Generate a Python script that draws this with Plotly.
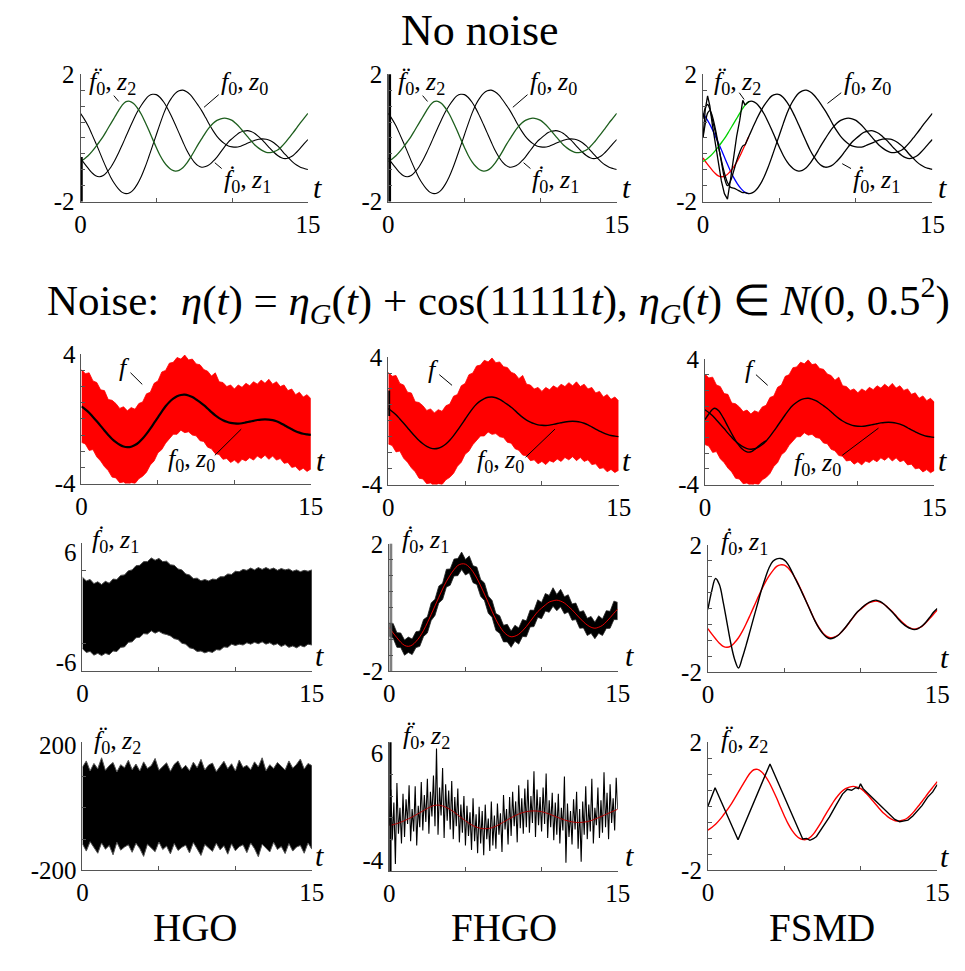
import plotly.graph_objects as go

W, H = 965, 971
SERIF = "Liberation Serif"

# ---------------- data -----------------
# reference signal f0 and its derivatives, sampled every 0.25 s on [0, 15]
DT = 0.25
f0 = [0.77, 0.59, 0.38, 0.12, -0.15, -0.43, -0.72, -0.99, -1.24, -1.44, -1.60, -1.71, -1.75,
      -1.72, -1.62, -1.45, -1.22, -0.93, -0.60, -0.25, 0.10, 0.45, 0.78, 1.05, 1.25, 1.40,
      1.48, 1.50, 1.45, 1.35, 1.20, 1.03, 0.85, 0.64, 0.42, 0.22, 0.05, -0.08, -0.18, -0.25,
      -0.28, -0.29, -0.27, -0.22, -0.17, -0.12, -0.07, -0.04, -0.03, -0.04, -0.08, -0.15,
      -0.25, -0.38, -0.52, -0.64, -0.76, -0.85, -0.92, -0.96, -0.99]
f0_d = [-0.63, -0.80, -0.95, -1.09, -1.19, -1.22, -1.18, -1.07, -0.92, -0.72, -0.48, -0.22,
        0.05, 0.32, 0.58, 0.82, 1.02, 1.19, 1.32, 1.37, 1.36, 1.27, 1.12, 0.92, 0.68, 0.42,
        0.15, -0.12, -0.38, -0.59, -0.76, -0.87, -0.92, -0.90, -0.84, -0.73, -0.60, -0.44,
        -0.28, -0.13, -0.02, 0.08, 0.17, 0.21, 0.23, 0.20, 0.14, 0.04, -0.07, -0.20, -0.33,
        -0.45, -0.55, -0.62, -0.65, -0.62, -0.56, -0.45, -0.32, -0.18, -0.05]
f0_dd = [-0.74, -0.66, -0.56, -0.43, -0.28, -0.12, 0.05, 0.25, 0.45, 0.65, 0.85, 1.03, 1.14,
         1.15, 1.08, 0.94, 0.75, 0.51, 0.25, -0.03, -0.30, -0.55, -0.75, -0.90, -1.00, -1.04,
         -1.02, -0.94, -0.80, -0.62, -0.42, -0.21, -0.02, 0.17, 0.33, 0.46, 0.55, 0.60, 0.62,
         0.60, 0.55, 0.45, 0.33, 0.19, 0.05, -0.09, -0.22, -0.32, -0.40, -0.45, -0.46, -0.43,
         -0.38, -0.28, -0.15, 0.00, 0.15, 0.31, 0.47, 0.62, 0.77]

# envelope of the noisy measurement f (every 0.25 s)
f_upper = [3.05, 2.80, 2.85, 2.35, 2.25, 1.80, 1.75, 1.20, 1.15, 0.95, 0.65, 0.75, 0.50, 0.70,
           0.60, 0.95, 1.05, 1.55, 1.65, 2.20, 2.35, 2.90, 3.00, 3.45, 3.50, 3.80, 3.70, 3.95,
           3.65, 3.70, 3.40, 3.35, 3.05, 2.95, 2.65, 2.85, 2.30, 2.25, 2.00, 2.10, 1.85, 2.10,
           1.95, 2.20, 2.05, 2.30, 2.15, 2.40, 2.20, 2.45, 2.15, 2.30, 2.00, 2.10, 1.75, 1.85,
           1.50, 1.65, 1.35, 1.50, 1.25]
f_lower = [-1.45, -1.55, -1.95, -1.90, -2.35, -2.60, -2.95, -3.20, -3.60, -3.65, -3.95, -3.90,
           -4.10, -3.95, -4.00, -3.70, -3.55, -3.30, -2.85, -2.60, -2.10, -1.90, -1.50, -1.25,
           -0.95, -0.95, -0.70, -0.85, -0.80, -1.00, -1.05, -1.35, -1.40, -1.75, -1.85, -2.15,
           -2.20, -2.50, -2.45, -2.70, -2.55, -2.75, -2.50, -2.60, -2.40, -2.55, -2.30, -2.45,
           -2.25, -2.50, -2.30, -2.55, -2.45, -2.75, -2.70, -3.00, -2.95, -3.20, -3.05, -3.25,
           -3.10]

# HGO estimate z1 under noise (envelope, every 0.25 s)
hgo_z1_upper = [3.25, 2.85, 3.00, 2.55, 2.75, 2.45, 2.80, 2.60, 3.05, 3.00, 3.45, 3.50, 3.95,
                4.05, 4.50, 4.55, 4.95, 4.95, 5.35, 5.10, 5.30, 4.95, 5.00, 4.60, 4.55, 4.15,
                4.05, 3.60, 3.50, 3.10, 3.15, 2.85, 3.00, 2.85, 3.05, 3.00, 3.30, 3.30, 3.60,
                3.55, 3.90, 3.85, 4.10, 4.00, 4.25, 4.05, 4.30, 4.10, 4.30, 4.10, 4.25, 4.00,
                4.20, 4.05, 4.15, 3.90, 4.05, 3.85, 4.00, 3.90, 4.05]
hgo_z1_lower = [-4.55, -4.95, -4.85, -5.25, -5.05, -5.30, -5.05, -5.20, -4.80, -4.85, -4.40,
                -4.35, -3.85, -3.80, -3.35, -3.30, -2.90, -2.95, -2.60, -2.85, -2.65, -2.90,
                -3.00, -3.15, -3.45, -3.55, -3.95, -4.05, -4.45, -4.55, -4.85, -4.80, -5.00,
                -4.85, -4.95, -4.65, -4.70, -4.35, -4.40, -4.05, -4.20, -4.05, -4.15, -3.90,
                -4.05, -3.85, -4.00, -3.80, -4.05, -3.90, -4.15, -4.00, -4.30, -4.10, -4.40,
                -4.25, -4.45, -4.20, -4.35, -4.05, -4.15]

# HGO estimate z2 under noise (envelope, every 0.25 s)
hgo_z2_upper = [130, 150, 118, 142, 125, 160, 120, 135, 145, 115, 138, 128, 152, 122, 140, 118,
                147, 126, 135, 158, 120, 132, 144, 117, 139, 150, 124, 136, 119, 146, 128, 155,
                121, 137, 143, 116, 132, 149, 125, 141, 118, 153, 129, 136, 122, 147, 131, 160,
                119, 138, 126, 145, 133, 121, 150, 127, 139, 156, 124, 142, 135]
hgo_z2_lower = [-115, -138, -108, -128, -145, -112, -132, -120, -150, -110, -135, -125, -118,
                -142, -113, -130, -155, -116, -127, -140, -109, -133, -122, -147, -114, -136,
                -126, -119, -144, -111, -131, -152, -117, -129, -139, -113, -134, -121, -148,
                -115, -137, -124, -118, -143, -112, -130, -156, -116, -128, -141, -110, -133,
                -123, -146, -114, -138, -125, -120, -145, -112, -132]

# FHGO estimate z1 under noise (envelope, every 0.25 s)
fhgo_z1_upper = [-0.49, -0.50, -0.79, -0.80, -1.02, -0.93, -0.99, -0.76, -0.74, -0.38, -0.29,
                 0.14, 0.26, 0.67, 0.76, 1.20, 1.21, 1.52, 1.54, 1.74, 1.51, 1.62, 1.31, 1.27,
                 0.88, 0.77, 0.36, 0.22, -0.19, -0.26, -0.56, -0.53, -0.74, -0.56, -0.64, -0.38,
                 -0.42, -0.08, -0.09, 0.24, 0.16, 0.44, 0.38, 0.62, 0.41, 0.57, 0.34, 0.40, 0.11,
                 0.14, -0.14, -0.10, -0.34, -0.28, -0.46, -0.26, -0.36, -0.10, -0.12, 0.20, 0.16]
fhgo_z1_lower = [-0.90, -0.96, -1.25, -1.26, -1.50, -1.41, -1.48, -1.26, -1.22, -0.91, -0.80,
                 -0.41, -0.25, 0.14, 0.25, 0.64, 0.70, 0.99, 1.00, 1.19, 1.02, 1.09, 0.78, 0.72,
                 0.35, 0.22, -0.18, -0.31, -0.72, -0.81, -1.08, -1.08, -1.25, -1.06, -1.15,
                 -0.91, -0.92, -0.61, -0.60, -0.31, -0.35, -0.11, -0.15, 0.04, -0.10, 0.02,
                 -0.20, -0.14, -0.40, -0.38, -0.65, -0.64, -0.88, -0.81, -0.98, -0.81, -0.88,
                 -0.66, -0.65, -0.38, -0.38]

# FHGO estimate z2 under noise, every 0.1 s
DT_FINE = 0.1
fhgo_z2 = [-0.7, 2.6, -2.1, 1.4, -4.3, 3.2, -1.5, 0.9, -2.4, 2.2,
           -1.8, 1.7, -0.6, 3.0, -2.2, 0.8, -1.3, 2.9, -2.6, 1.1,
           -0.9, 3.3, -1.2, 2.1, -0.4, 3.6, -1.5, 2.4, 0.1, 3.9,
           -0.8, 6.4, -1.6, 2.8, 0.2, 4.6, -1.9, 3.1, -0.3, 2.5,
           -1.1, 3.4, -2.0, 1.9, -0.8, 2.7, -2.3, 1.2, -1.4, 2.0,
           -2.6, 1.1, -1.7, 0.5, -3.0, 1.8, -2.2, 0.3, -3.3, 1.0,
           -2.4, 0.6, -3.5, 1.2, -2.0, -0.1, -3.1, 1.5, -2.6, 0.2,
           -2.9, 1.3, -1.6, 0.4, -3.2, 2.1, -1.1, 0.8, -2.5, 1.9,
           -1.7, 2.4, -0.8, 1.5, -2.3, 3.0, -1.0, 1.8, -1.5, 2.7,
           -0.9, 3.5, -1.4, 2.0, -0.5, 4.3, -1.8, 2.6, -0.7, 1.9,
           -1.3, 2.8, -0.6, 4.1, -1.9, 1.6, -0.9, 2.3, -2.1, 1.4,
           -1.6, 2.2, -2.4, 0.9, -1.2, 3.8, -4.2, 1.3, -1.8, 0.6,
           -2.5, 1.7, -1.1, 2.4, -2.9, 0.8, -4.1, 1.5, -1.6, 2.9,
           -2.0, 1.2, -1.3, 3.6, -2.4, 0.9, -0.7, 2.8, -1.9, 1.6,
           -1.4, 4.2, -0.9, 2.3, -2.0, 3.1, -0.5, 1.8, -1.2, 3.7,
           0.8]

# FSMD transients without noise (t in [0, 2.75])
fsmd_t_tr = [0, 0.15, 0.3, 0.45, 0.6, 0.8, 1.0, 1.2, 1.4, 1.6, 1.8, 2.0, 2.2, 2.4, 2.6, 2.75]
fsmd_z0_tr = [0.6, 0.95, 1.05, 0.9, 0.6, 0.2, -0.25, -0.7, -1.1, -1.4, -1.55, -1.58, -1.62,
              -1.67, -1.72, -1.71]
fsmd_z1_tr = [0.0, 0.45, 0.78, 0.86, 0.7, 0.3, -0.2, -0.75, -1.25, -1.5, -1.35, -1.05, -0.72,
              -0.45, -0.25, -0.22]
fsmd_z2_tr = [0.0, 0.9, 1.32, 1.0, 0.45, -0.2, -0.8, -1.35, -1.75, -1.92, -1.3, -0.6, 0.05,
              0.55, 1.18, 1.03]

# FSMD transient of z0 under noise (t in [0, 4])
fsmd_t_n0 = [0, 0.25, 0.5, 0.65, 0.9, 1.2, 1.5, 1.8, 2.1, 2.4, 2.7, 2.95, 3.2, 3.5, 3.8, 4.0]
fsmd_z0_n = [0.14, 0.50, 0.80, 0.86, 0.70, 0.25, -0.30, -0.85, -1.35, -1.70, -1.90, -1.93,
             -1.80, -1.55, -1.32, -1.22]

# FSMD z1 under noise, every 0.25 s
fsmd_z1_n = [-0.03, 0.55, 0.94, 0.75, 0.20, -0.45, -1.10, -1.60, -1.87, -1.55, -1.15, -0.72,
             -0.28, 0.15, 0.58, 0.95, 1.28, 1.48, 1.56, 1.57, 1.52, 1.38, 1.15, 0.90, 0.66,
             0.40, 0.14, -0.13, -0.39, -0.61, -0.78, -0.90, -0.95, -0.92, -0.85, -0.73, -0.59,
             -0.43, -0.27, -0.12, -0.01, 0.10, 0.18, 0.24, 0.26, 0.22, 0.14, 0.03, -0.09,
             -0.22, -0.36, -0.48, -0.57, -0.63, -0.66, -0.63, -0.55, -0.43, -0.28, -0.12, 0.0]

# FSMD z2 under noise (breakpoints)
fsmd_t_z2 = [0, 0.47, 1.97, 4.06, 6.2, 6.45, 6.67, 6.9, 7.1, 7.5, 7.95, 8.4, 8.8, 9.12, 9.4,
             9.66, 9.85, 9.98, 10.15, 10.3, 10.6, 10.94, 11.25, 11.58, 11.9, 12.22, 12.54,
             12.8, 13.08, 13.4, 13.7, 14.0, 14.36, 14.7, 15.0]
fsmd_z2_n = [0.0, 0.58, -1.04, 1.32, -1.02, -1.00, -1.06, -1.01, -0.94, -0.66, -0.33, 0.05,
             0.38, 0.53, 0.50, 0.58, 0.55, 0.70, 0.55, 0.48, 0.34, 0.18, 0.05, -0.13, -0.25,
             -0.41, -0.48, -0.46, -0.43, -0.30, -0.13, 0.02, 0.28, 0.45, 0.68]

# initial peaking spikes (t, values), clipped by the axes
hgo_peak = ([0.05, 0.05], [-2.1, -0.6])
fhgo_peak = ([0.05, 0.05], [-2.1, 2.1])
fhgo_peak_n0 = ([0.04, 0.04], [0.3, 1.9])
fhgo_peak_n1 = ([0.04, 0.04, None, 0.1, 0.1, None, 0.16, 0.16],
                [-2.1, 2.1, None, -2.1, 2.1, None, -2.1, 2.1])
fhgo_peak_n2 = ([0.05, 0.05], [-5.1, 7.1])

# ---------------- layout -----------------
# panel boxes in pixels: x at t=0, x at t=15, y of top, y of bottom, y-range, y labels
panels = [
    (76, 308, 63, 194, [-2, 2], [-2, 2]),
    (390, 623, 63, 194, [-2, 2], [-2, 2]),
    (711, 945, 63, 194, [-2, 2], [-2, 2]),
    (77, 311, 351, 484, [-4, 4], [-4, 4]),
    (390, 625, 354, 485, [-4, 4], [-4, 4]),
    (713, 947, 356, 485, [-4, 4], [-4, 4]),
    (78, 312, 545, 677, [-7, 7], [-6, 6]),
    (391, 624, 546, 677, [-2, 2], [-2, 2]),
    (716, 950, 547, 678, [-2, 2], [-2, 2]),
    (78, 312, 750, 882, [-200, 210], [-200, 200]),
    (391, 624, 750, 883, [-5, 7], [-4, 6]),
    (716, 950, 750, 882, [-2, 2], [-2, 2]),
]
HALF = [-1.5, -1, -0.5, 0, 0.5, 1, 1.5]
minor_y = [HALF, HALF, HALF,
           [-3, -2, -1, 0, 1, 2, 3], [-3, -2, -1, 0, 1, 2, 3], [-3, -2, -1, 0, 1, 2, 3],
           [-4, 4], HALF, HALF,
           [-100, 0, 100], [-2, 0, 2, 4], HALF]

fig = go.Figure()
layout = dict(width=W, height=H, margin=dict(l=0, r=0, t=0, b=0),
              paper_bgcolor="white", plot_bgcolor="white", showlegend=False)

AX = "#555555"
for k, (x0, x1, yt, yb, yr, ylab) in enumerate(panels):
    n = k + 1
    sx = "" if n == 1 else str(n)
    layout["xaxis" + sx] = dict(
        domain=[x0 / W, x1 / W], range=[0, 15], anchor="y" + sx,
        showline=True, linecolor=AX, linewidth=1, showgrid=False, zeroline=False,
        tickvals=[0, 15], ticktext=["0", "15"], ticks="",
        tickfont=dict(family=SERIF, size=25, color="black"),
        minor=dict(tickvals=[5, 10], ticks="inside", ticklen=4, tickcolor=AX),
        fixedrange=True)
    layout["yaxis" + sx] = dict(
        domain=[1 - yb / H, 1 - yt / H], range=yr, anchor="x" + sx,
        showline=True, linecolor=AX, linewidth=1, showgrid=False, zeroline=False,
        tickvals=ylab, ticktext=[str(v) for v in ylab], ticks="",
        tickfont=dict(family=SERIF, size=25, color="black"),
        minor=dict(tickvals=minor_y[k], ticks="inside", ticklen=4, tickcolor=AX),
        fixedrange=True)


def ax(n):
    s = "" if n == 1 else str(n)
    return dict(xaxis="x" + s, yaxis="y" + s)


def line(n, y, color="black", width=1.2, x=None, x0=0, dx=DT, shape="spline"):
    args = dict(y=y, mode="lines", line=dict(color=color, width=width, shape=shape),
                hoverinfo="skip", **ax(n))
    if x is None:
        args.update(x0=x0, dx=dx)
    else:
        args["x"] = x
    fig.add_trace(go.Scatter(**args))


def band(n, lo, hi, color, edge=None, edge_w=0.8):
    ec = edge or color
    fig.add_trace(go.Scatter(y=lo, x0=0, dx=DT, mode="lines", line=dict(color=ec, width=edge_w),
                             hoverinfo="skip", **ax(n)))
    fig.add_trace(go.Scatter(y=hi, x0=0, dx=DT, mode="lines", line=dict(color=ec, width=edge_w),
                             fill="tonexty", fillcolor=color, hoverinfo="skip", **ax(n)))


GREEN = "#00d000"
DARKGREEN = "#1d5e1d"
RED = "#ff0000"
BLUE = "#0000ff"

# --- row 0: no noise ---
for n, peak, pw in ((1, hgo_peak, 3), (2, fhgo_peak, 4)):
    line(n, f0, width=1.1)
    line(n, f0_d, width=1.1)
    line(n, f0_dd, color=DARKGREEN, width=1.3)
    line(n, peak[1], x=peak[0], width=pw, shape="linear")
# FSMD
line(3, f0[:13], color=BLUE, width=1.3)
line(3, f0_d[:13], color=RED, width=1.3)
line(3, f0_dd[:13], color=GREEN, width=1.3)
line(3, f0[11:], x0=2.75, width=1.3)
line(3, f0_d[11:], x0=2.75, width=1.3)
line(3, f0_dd[11:], x0=2.75, width=1.3)
line(3, fsmd_z0_tr, x=fsmd_t_tr, width=1.3)
line(3, fsmd_z1_tr, x=fsmd_t_tr, width=1.3)
line(3, fsmd_z2_tr, x=fsmd_t_tr, width=1.3, shape="linear")

# --- row 1: measured f and estimate z0 ---
for n in (4, 5, 6):
    band(n, f_lower, f_upper, RED)
line(4, f0, width=2.2)
line(5, f0, width=1.4)
line(5, fhgo_peak_n0[1], x=fhgo_peak_n0[0], width=2.5, shape="linear")
line(6, f0, width=1.4)
line(6, fsmd_z0_n, x=fsmd_t_n0, width=1.4)

# --- row 2: derivative estimate z1 ---
band(7, hgo_z1_lower, hgo_z1_upper, "black", edge="#444444", edge_w=1.0)
band(8, fhgo_z1_lower, fhgo_z1_upper, "black", edge="#222222", edge_w=0.8)
line(8, f0_d, color=RED, width=0.9)
line(8, fhgo_peak_n1[1], x=fhgo_peak_n1[0], color="#666666", width=1, shape="linear")
line(9, f0_d, color=RED, width=1.4)
line(9, fsmd_z1_n, width=1.4)

# --- row 3: second derivative estimate z2 ---
band(10, hgo_z2_lower, hgo_z2_upper, "black", edge="#555555", edge_w=1.0)
line(11, fhgo_z2, x0=0, dx=DT_FINE, width=1.1, shape="linear")
line(11, f0_dd, color="#b00000", width=1.0)
line(11, fhgo_peak_n2[1], x=fhgo_peak_n2[0], width=3, shape="linear")
line(12, f0_dd, color=RED, width=1.4)
line(12, fsmd_z2_n, x=fsmd_t_z2, width=1.4, shape="linear")

# ---------------- text -----------------
def P(x, y):
    return x / W, 1 - y / H


annotations = []
shapes = []
LSIZE = 26


def text(x, y, s, size=LSIZE, anchor="center"):
    px, py = P(x, y)
    annotations.append(dict(x=px, y=py, xref="paper", yref="paper", text=s, showarrow=False,
                            xanchor=anchor, yanchor="middle",
                            font=dict(family=SERIF, size=size, color="black")))


def leader(xa, ya, xb, yb):
    a, b = P(xa, ya)
    c, d = P(xb, yb)
    shapes.append(dict(type="line", xref="paper", yref="paper", x0=a, y0=b, x1=c, y1=d,
                       line=dict(color="black", width=1)))


TS = "\u2009"
L0 = "<i>f</i><sub>0</sub>," + TS + "<i>z</i><sub>0</sub>"
L1 = "<i>f</i><sub>0</sub>," + TS + "<i>z</i><sub>1</sub>"
L2 = "<i>f</i><sub>0</sub>," + TS + "<i>z</i><sub>2</sub>"
LT = "<i>t</i>"


def deriv_label(x_left, y, order):
    # label f0^(order), z_order with the dots drawn above the f
    text(x_left, y, L1 if order == 1 else L2, anchor="left")
    text(x_left + 11, y - 7, "\u02d9" if order == 1 else "\u00a8", size=LSIZE)


text(484, 18, "No noise", size=44)
text(502, 296, "Noise:  <i>η</i>(<i>t</i>) = <i>η</i><sub><i>G</i></sub>(<i>t</i>) + cos(11111<i>t</i>), "
     "<i>η</i><sub><i>G</i></sub>(<i>t</i>) ∈ <i>N</i>(0, 0.5<sup>2</sup>)", size=43)
text(193, 941, "HGO", size=39)
text(508, 941, "FHGO", size=39)
text(832, 941, "FSMD", size=39)

# row 0 labels
for z2x, z0x, z1x in ((83, 217, 220), (398, 532, 535), (720, 853, 862)):
    deriv_label(z2x, 72, 2)
    text(z0x, 72, L0, anchor="left")
    deriv_label(z1x, 173, 1)
leader(110, 85, 115, 91); leader(217, 84, 202, 97); leader(220, 160, 213, 154)
leader(425, 85, 430, 91); leader(532, 84, 517, 97); leader(535, 160, 528, 154)
leader(748, 82, 753, 89); leader(852, 82, 838, 93); leader(862, 160, 853, 155)

# row 1 labels
for (fx, fy), (zx, zy) in (((113, 365), (163, 460)), ((428, 367), (478, 461)), ((752, 367), (802, 464))):
    text(fx, fy, "<i>f</i>", anchor="left")
    text(zx, zy, L0, anchor="left")
leader(127, 370, 139, 382); leader(213, 455, 240, 428)
leader(442, 372, 455, 383); leader(530, 457, 560, 428)
leader(765, 372, 777, 383); leader(853, 455, 890, 427)

# rows 2 and 3 labels
deriv_label(86, 543, 1); deriv_label(402, 543, 1); deriv_label(727, 545, 1)
deriv_label(88, 750, 2); deriv_label(403, 745, 2); deriv_label(727, 749, 2)

# time-axis labels
for (x, y) in ((318, 180), (633, 180), (955, 180), (321, 460), (633, 460), (955, 460),
               (320, 661), (636, 661), (957, 663), (320, 867), (636, 867), (957, 868)):
    text(x, y, LT, size=30)

layout["annotations"] = annotations
layout["shapes"] = shapes
fig.update_layout(**layout)
fig.write_html("out.html")
